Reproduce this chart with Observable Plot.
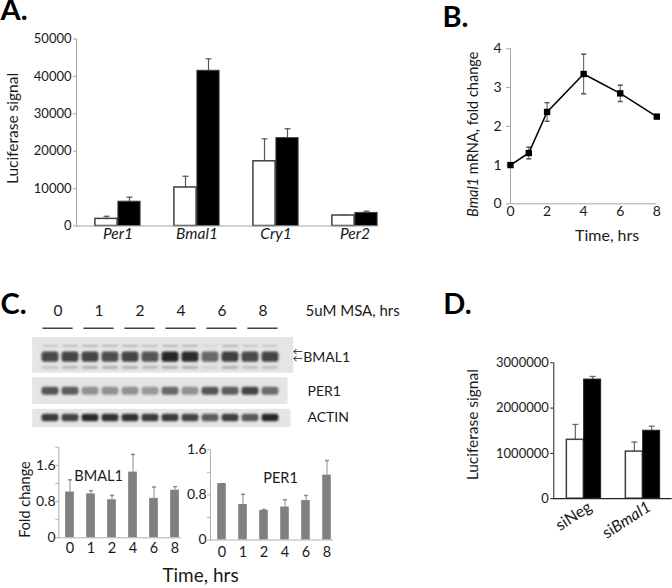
<!DOCTYPE html>
<html><head><meta charset="utf-8">
<script src="https://cdn.jsdelivr.net/npm/d3@7"></script>
<script src="https://cdn.jsdelivr.net/npm/@observablehq/plot@0.6"></script>
<style>
html,body{margin:0;padding:0;background:#fff;}
#fig{position:relative;width:672px;height:588px;overflow:hidden;background:#fff;}
</style></head><body><div id="fig"></div>
<script>
// ---------- DATA ----------
// Panel A
const genes = ["Per1", "Bmal1", "Cry1", "Per2"];
const ctrlSignal = [1900, 10300, 17300, 2800];
const ctrlSd = [700, 3000, 6000, 100];
const treatSignal = [6500, 41500, 23500, 3500];
const treatSd = [1200, 3200, 2500, 450];
const aTicks = [0, 10000, 20000, 30000, 40000, 50000];
// Panel B
const hours = [0, 1, 2, 4, 6, 8];
const bmal1Mrna = [1.0, 1.31, 2.37, 3.35, 2.85, 2.25];
const bmal1MrnaSd = [0, 0.15, 0.24, 0.51, 0.21, 0.03];
const bYTicks = [0, 1, 2, 3, 4];
const bXTicks = [0, 2, 4, 6, 8];
// Panel C blots
const times = ["0", "1", "2", "4", "6", "8"];
const laneNames = ["0a","0b","1a","1b","2a","2b","4a","4b","6a","6b","8a","8b"];
const bmal1Band = [0.78, 0.8, 0.8, 0.75, 0.8, 0.72, 0.95, 0.92, 0.62, 0.82, 0.78, 0.8];
const bmal1Faint = [0.18, 0.25, 0.3, 0.28, 0.28, 0.25, 0.3, 0.3, 0.1, 0.3, 0.2, 0.2];
const per1Band = [0.72, 0.68, 0.42, 0.42, 0.42, 0.38, 0.62, 0.42, 0.72, 0.68, 0.8, 0.6];
const actinBand = [0.85, 0.8, 0.92, 0.9, 0.9, 0.85, 0.85, 0.8, 0.68, 0.82, 0.7, 0.95];
// Panel C quantification
const bmal1Fold = [1.01, 0.97, 0.84, 1.45, 0.87, 1.05];
const bmal1FoldSd = [0.27, 0.07, 0.095, 0.39, 0.25, 0.08];
const per1Fold = [1.0, 0.63, 0.525, 0.585, 0.70, 1.15];
const per1FoldSd = [0, 0.18, 0.015, 0.13, 0.09, 0.26];
const bmalFoldTicks = [0, 0.4, 0.8, 1.2, 1.6, 2.0];
const perFoldTicks = [0, 0.4, 0.8, 1.2, 1.6];
const foldLabelTicks = [0, 0.8, 1.6];
// Panel D
const siGroups = ["siNeg", "siBmal1"];
const dCtrl = [1300000, 1040000];
const dCtrlSd = [340000, 210000];
const dTreat = [2630000, 1500000];
const dTreatSd = [70000, 100000];
const dTicks = [0, 1000000, 2000000, 3000000];

// ---------- HELPERS ----------
const W = 672, H = 588;
const FONT = "Lato, 'Noto Sans', sans-serif";
const fig = document.getElementById("fig");
function box(l, t, r, b) {
  return {width: W, height: H, marginLeft: l, marginTop: t, marginRight: W - r, marginBottom: H - b,
    style: {background: "none", fontFamily: FONT, position: "absolute", left: "0px", top: "0px", maxWidth: "none", color: "#1a1a1a"}};
}
const capSym = {draw(ctx, size) { const w = Math.sqrt(size / Math.PI); ctx.moveTo(-w, 0); ctx.lineTo(w, 0); }};
function add(svg) { fig.appendChild(svg); return svg; }
function italicize(svg, full, plain, ital) {
  d3.select(svg).selectAll("text").filter(function() { return this.textContent === full; }).each(function() {
    const t = d3.select(this); t.text("");
    if (plain) t.append("tspan").text(plain);
    t.append("tspan").attr("font-style", "italic").text(ital);
    if (plain === "") t.append("tspan").text(full.slice(ital.length));
  });
}
const label = (txt, o) => Plot.text([txt], {text: d => d, textAnchor: "middle", ...o});

// ---------- PANEL A ----------
const aData = genes.map((g, i) => ({g, c: ctrlSignal[i], cs: ctrlSd[i], t: treatSignal[i], ts: treatSd[i]}));
const axA = "#a6a6a6";
add(Plot.plot({
  ...box(76, 38.5, 378.3, 225.5),
  x: {type: "band", domain: genes, range: [76.1, 395.3], padding: 0, axis: null},
  y: {domain: [0, 50000]},
  marks: [
    Plot.frame({anchor: "left", stroke: axA}),
    Plot.axisY({ticks: aTicks, tickFormat: d3.format("d"), tickSize: 3, tickPadding: 2, fontSize: 13, stroke: axA, fill: "#1a1a1a", label: null}),
    Plot.ruleX(aData, {x: "g", y1: "c", y2: d => d.c + d.cs, dx: -11.5, stroke: "#555", strokeWidth: 1.2}),
    Plot.dot(aData, {x: "g", y: d => d.c + d.cs, dx: -11.5, symbol: capSym, r: 3, stroke: "#555", fill: "none", strokeWidth: 1.2}),
    Plot.ruleX(aData, {x: "g", y1: "t", y2: d => d.t + d.ts, dx: 11.5, stroke: "#555", strokeWidth: 1.2}),
    Plot.dot(aData, {x: "g", y: d => d.t + d.ts, dx: 11.5, symbol: capSym, r: 3, stroke: "#555", fill: "none", strokeWidth: 1.2}),
    Plot.barY(aData, {x: "g", y: "c", fill: "white", stroke: "#404040", strokeWidth: 1.5, insetLeft: 16.9, insetRight: 39.9}),
    Plot.barY(aData, {x: "g", y: "t", fill: "#000", stroke: "#404040", strokeWidth: 1, insetLeft: 39.9, insetRight: 16.9}),
    Plot.ruleY([0], {stroke: axA}),
    Plot.text(genes, {x: d => d, text: d => d, frameAnchor: "bottom", dy: 13, fontSize: 15.5, fontStyle: "italic", fill: "#1a1a1a"}),
    label("Luciferase signal", {frameAnchor: "left", dx: -63, dy: -4, rotate: -90, fontSize: 15.5, fill: "#1a1a1a"}),
    label("A.", {frameAnchor: "top-left", dx: -76, dy: -39.5, lineAnchor: "top", textAnchor: "start", fontSize: 29, fontWeight: "bold", fill: "#000"})
  ]
}));

// ---------- PANEL B ----------
const bData = hours.map((h, i) => ({h, v: bmal1Mrna[i], s: bmal1MrnaSd[i]}));
const bSvg = add(Plot.plot({
  ...box(510, 48.3, 656.3, 203.3),
  x: {domain: [0, 8]},
  y: {domain: [0, 4]},
  marks: [
    Plot.ruleX([0], {stroke: axA}),
    Plot.ruleY([0], {stroke: axA}),
    Plot.axisY({ticks: bYTicks, tickFormat: d => String(d), tickSize: 4, tickPadding: 5, fontSize: 14, stroke: axA, fill: "#1a1a1a", label: null}),
    Plot.axisX({ticks: bXTicks, tickFormat: d => String(d), tickSize: 0, tickPadding: 2, fontSize: 14, fill: "#1a1a1a", label: null}),
    Plot.ruleX(bData, {x: "h", y1: d => d.v - d.s, y2: d => d.v + d.s, stroke: "#555"}),
    Plot.dot(bData, {x: "h", y: d => d.v + d.s, symbol: capSym, r: 2.5, stroke: "#555", fill: "none"}),
    Plot.dot(bData, {x: "h", y: d => d.v - d.s, symbol: capSym, r: 2.5, stroke: "#555", fill: "none"}),
    Plot.line(bData, {x: "h", y: "v", stroke: "#000", strokeWidth: 1.6}),
    Plot.dot(bData, {x: "h", y: "v", symbol: "square", r: 3.6, fill: "#000", stroke: "none"}),
    label("Time, hrs", {frameAnchor: "bottom", dx: 23.5, dy: 37.4, fontSize: 16, fill: "#1a1a1a"}),
    label("Bmal1 mRNA, fold change", {frameAnchor: "left", dx: -37, dy: 8, rotate: -90, fontSize: 14.5, fill: "#1a1a1a"}),
    label("B.", {frameAnchor: "top-left", dx: -68, dy: -42, lineAnchor: "top", textAnchor: "start", fontSize: 29, fontWeight: "bold", fill: "#000"})
  ]
}));
italicize(bSvg, "Bmal1 mRNA, fold change", "", "Bmal1");

// ---------- PANEL C : header ----------
const laneRange = [34.5, 285.5];
add(Plot.plot({
  ...box(31.7, 300, 292.7, 327.7),
  x: {type: "band", domain: times, range: laneRange, padding: 0, axis: null},
  y: {domain: [0, 1], axis: null},
  marks: [
    Plot.tickY(times, {x: d => d, y: () => 0, insetLeft: 5.4, insetRight: 5.4, stroke: "#111", strokeWidth: 1.2}),
    Plot.text(times, {x: d => d, text: d => d, frameAnchor: "bottom", dy: -12, fontSize: 15.5, fill: "#1a1a1a"}),
    label("5uM MSA, hrs", {frameAnchor: "bottom-right", dx: 12.3, dy: -12, textAnchor: "start", fontSize: 15, fill: "#1a1a1a"}),
    label("C.", {frameAnchor: "top-left", dx: -31.7, dy: -7, lineAnchor: "top", textAnchor: "start", fontSize: 29, fontWeight: "bold", fill: "#000"})
  ]
}));

// ---------- PANEL C : blots ----------
function blot(frame, layers, name, ndx, ndy, id, extra = []) {
  const [l, t, r, b] = frame;
  const marks = [Plot.frame({fill: "#e5e5e5", stroke: "none"})];
  for (const L of layers) {
    marks.push(Plot.cell(L.values.map((v, i) => ({lane: laneNames[i], v})),
      {x: "lane", fill: "v", insetLeft: 1.5, insetRight: 1.5, insetTop: L.top, insetBottom: L.bottom, rx: 3}));
  }
  marks.push(label(name, {frameAnchor: "right", dx: ndx, dy: ndy, textAnchor: "start", fontSize: 14, fill: "#1a1a1a"}));
  marks.push(...extra);
  const svg = add(Plot.plot({
    ...box(l, t, r, b),
    x: {type: "band", domain: laneNames, range: laneRange, padding: 0, axis: null},
    color: {type: "linear", domain: [0, 1], range: ["#e5e5e5", "#1c1c1c"]},
    marks
  }));
  const sel = d3.select(svg);
  sel.append("defs").append("filter").attr("id", id).attr("x", "-30%").attr("y", "-80%").attr("width", "160%").attr("height", "260%")
    .append("feGaussianBlur").attr("stdDeviation", 1.2);
  sel.selectAll('g[aria-label="cell"]').attr("filter", `url(#${id})`);
  return svg;
}
blot([31.7, 336.5, 292.7, 372.2], [
  {values: bmal1Faint, top: 8.5, bottom: 25.5},
  {values: bmal1Band, top: 15, bottom: 10.5},
  {values: bmal1Faint, top: 29.5, bottom: 3.5}
], "BMAL1", 10, 2.5, "blurB", [
  label("\u2190", {frameAnchor: "right", dx: -0.5, dy: -3, textAnchor: "start", fontSize: 10, fill: "#111"}),
  label("\u2190", {frameAnchor: "right", dx: -0.5, dy: 3.5, textAnchor: "start", fontSize: 10, fill: "#111"})
]);
blot([31.7, 376.7, 287, 403.3], [
  {values: per1Band, top: 10, bottom: 8.5}
], "PER1", 20, 1, "blurP");
blot([31.7, 408.3, 290, 426.7], [
  {values: actinBand, top: 5.5, bottom: 5.5}
], "ACTIN", 17, 0, "blurA");

// ---------- PANEL C : quantification ----------
const axC = "#b0b0b0";
const cb = times.map((t, i) => ({t, v: bmal1Fold[i], s: bmal1FoldSd[i]}));
add(Plot.plot({
  ...box(58.3, 446.7, 181, 537.3),
  x: {type: "band", domain: times, range: [58.8, 184.8], padding: 0},
  y: {domain: [0, 2.0]},
  marks: [
    Plot.frame({anchor: "left", stroke: axC}),
    Plot.axisY({ticks: bmalFoldTicks, tickSize: 3, tickFormat: () => "", stroke: axC, label: null}),
    Plot.axisY({ticks: foldLabelTicks, tickSize: 0, tickPadding: 3.3, tickFormat: d => String(d), fontSize: 14, fill: "#1a1a1a", label: null}),
    Plot.ruleX(cb, {x: "t", y1: "v", y2: d => d.v + d.s, stroke: "#8c8c8c"}),
    Plot.dot(cb, {x: "t", y: d => d.v + d.s, symbol: capSym, r: 2, stroke: "#8c8c8c", fill: "none"}),
    Plot.barY(cb, {x: "t", y: "v", fill: "#808080", insetLeft: 6.15, insetRight: 6.15}),
    Plot.ruleY([0], {stroke: axC}),
    Plot.axisX({tickSize: 0, tickPadding: 5.4, fontSize: 14.5, fill: "#1a1a1a", label: null}),
    label("BMAL1", {frameAnchor: "top", dx: -21.6, dy: 23.3, fontSize: 14.5, fill: "#1a1a1a"}),
    label("Fold change", {frameAnchor: "left", dx: -33.3, dy: 7, rotate: -90, fontSize: 14.5, fill: "#1a1a1a"}),
    label("Time, hrs", {frameAnchor: "bottom", dx: 80.35, dy: 44.4, fontSize: 19, fill: "#1a1a1a"})
  ]
}));
const cp = times.map((t, i) => ({t, v: per1Fold[i], s: per1FoldSd[i]}));
add(Plot.plot({
  ...box(210, 449.3, 333, 539.5),
  x: {type: "band", domain: times, range: [210.4, 337.3], padding: 0},
  y: {domain: [0, 1.6]},
  marks: [
    Plot.frame({anchor: "left", stroke: axC}),
    Plot.axisY({ticks: perFoldTicks, tickSize: 3, tickFormat: () => "", stroke: axC, label: null}),
    Plot.axisY({ticks: foldLabelTicks, tickSize: 0, tickPadding: 4, tickFormat: d => String(d), fontSize: 14, fill: "#1a1a1a", label: null}),
    Plot.ruleX(cp, {x: "t", y1: "v", y2: d => d.v + d.s, stroke: "#8c8c8c"}),
    Plot.dot(cp, {x: "t", y: d => d.v + d.s, symbol: capSym, r: 2, stroke: "#8c8c8c", fill: "none"}),
    Plot.barY(cp, {x: "t", y: "v", fill: "#808080", insetLeft: 6.2, insetRight: 6.2}),
    Plot.ruleY([0], {stroke: axC}),
    Plot.axisX({tickSize: 0, tickPadding: 6.5, fontSize: 14.5, fill: "#1a1a1a", label: null}),
    label("PER1", {frameAnchor: "top", dx: 8.5, dy: 22.7, fontSize: 14.5, fill: "#1a1a1a"})
  ]
}));

// ---------- PANEL D ----------
const dData = siGroups.map((g, i) => ({g, c: dCtrl[i], cs: dCtrlSd[i], t: dTreat[i], ts: dTreatSd[i]}));
const axD = "#222";
const dSvg = add(Plot.plot({
  ...box(553.3, 362.3, 671.7, 498.2),
  x: {type: "band", domain: siGroups, range: [553.35, 671.95], padding: 0, axis: null},
  y: {domain: [0, 3000000]},
  marks: [
    Plot.frame({anchor: "left", stroke: axD}),
    Plot.axisY({ticks: dTicks, tickFormat: d => String(d), tickSize: 3, tickPadding: 2, fontSize: 13, stroke: axD, fill: "#1a1a1a", label: null}),
    Plot.ruleX(dData, {x: "g", y1: "c", y2: d => d.c + d.cs, dx: -8.65, stroke: "#666", strokeWidth: 1.2}),
    Plot.dot(dData, {x: "g", y: d => d.c + d.cs, dx: -8.65, symbol: capSym, r: 3, stroke: "#666", fill: "none", strokeWidth: 1.2}),
    Plot.ruleX(dData, {x: "g", y1: "t", y2: d => d.t + d.ts, dx: 8.65, stroke: "#666", strokeWidth: 1.2}),
    Plot.dot(dData, {x: "g", y: d => d.t + d.ts, dx: 8.65, symbol: capSym, r: 3, stroke: "#666", fill: "none", strokeWidth: 1.2}),
    Plot.barY(dData, {x: "g", y: "c", fill: "white", stroke: "#404040", strokeWidth: 1.5, insetLeft: 12.35, insetRight: 29.65}),
    Plot.barY(dData, {x: "g", y: "t", fill: "#000", stroke: "#222", strokeWidth: 1, insetLeft: 29.65, insetRight: 12.35}),
    Plot.ruleY([0], {stroke: axD, strokeWidth: 1.2}),
    Plot.text(siGroups, {x: d => d, text: d => d, frameAnchor: "bottom", dx: 9, dy: 11, rotate: -33, textAnchor: "end", fontSize: 16, fill: "#1a1a1a"}),
    label("Luciferase signal", {frameAnchor: "left", dx: -80.3, dy: -6, rotate: -90, fontSize: 15.5, fill: "#1a1a1a"}),
    label("D.", {frameAnchor: "top-left", dx: -110.6, dy: -69.3, lineAnchor: "top", textAnchor: "start", fontSize: 29, fontWeight: "bold", fill: "#000"})
  ]
}));
italicize(dSvg, "siBmal1", "si", "Bmal1");
</script></body></html>
